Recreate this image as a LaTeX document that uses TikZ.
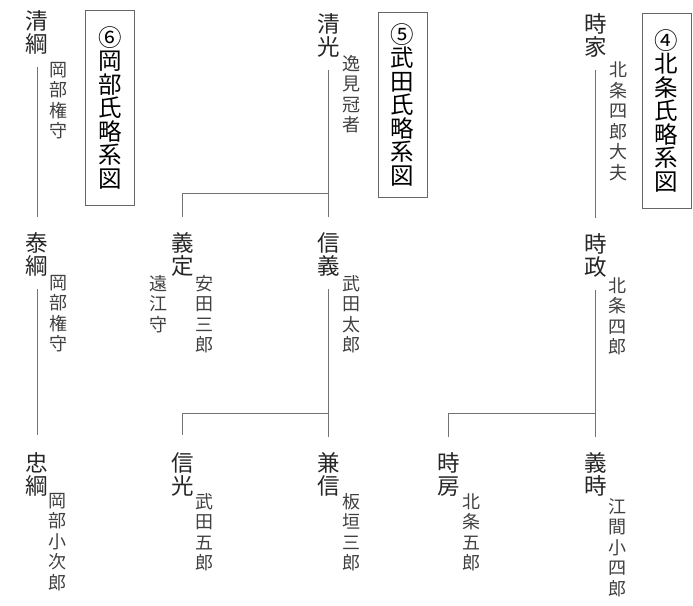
\documentclass[tikz,border=0pt]{standalone}
\usepackage{fontspec}
\newfontfamily\jp{Noto Sans CJK JP}
\tikzset{
  nm/.style={anchor=north, align=center, inner sep=0pt, font=\jp\fontsize{22.5pt}{23pt}\selectfont, text=black!85},
  sb/.style={anchor=north, align=center, inner sep=0pt, font=\jp\fontsize{18pt}{20.5pt}\selectfont, text=black!75},
  titlebox/.style={draw=black!60, line width=0.8pt, align=center, inner sep=0pt, minimum width=49pt, font=\jp\fontsize{23.5pt}{23.5pt}\selectfont, text=black},
  link/.style={draw=black!55, line width=0.7pt},
}
\begin{document}
\begin{tikzpicture}[x=1pt, y=-1pt]
\useasboundingbox (0,0) rectangle (693,605);

% ---- Okabe ----
\node[titlebox, minimum height=195pt] (box6) at (110,107.5) {⑥\\岡\\部\\氏\\略\\系\\図};
\node[nm] (kiyotsuna) at (37,10) {清\\綱};
\node[sb] (kiyotsunaS) at (58.5,62) {岡\\部\\権\\守};
\node[nm] (yasutsuna) at (37,232) {泰\\綱};
\node[sb] (yasutsunaS) at (58.5,275) {岡\\部\\権\\守};
\node[nm] (tadatsuna) at (37,452) {忠\\綱};
\node[sb] (tadatsunaS) at (57,493) {岡\\部\\小\\次\\郎};
\draw[link, shorten <=13pt, shorten >=15pt] (kiyotsuna.south) -- (yasutsuna.north);
\draw[link, shorten <=13pt, shorten >=17pt] (yasutsuna.south) -- (tadatsuna.north);

% ---- Takeda ----
\node[titlebox, minimum height=185pt] (box5) at (402.5,104.5) {⑤\\武\\田\\氏\\略\\系\\図};
\node[nm] (kiyomitsu) at (328.5,13) {清\\光};
\node[sb] (kiyomitsuS) at (351.5,55) {逸\\見\\冠\\者};
\node[nm] (yoshisada) at (182.5,232) {義\\定};
\node[sb] (yoshisadaS) at (204,275) {安\\田\\三\\郎};
\node[sb] (yoshisadaT) at (158.5,275) {遠\\江\\守};
\node[nm] (nobuyoshi) at (328.5,232) {信\\義};
\node[sb] (nobuyoshiS) at (351.5,275) {武\\田\\太\\郎};
\node[nm] (nobumitsu) at (182.5,452) {信\\光};
\node[sb] (nobumitsuS) at (204,493) {武\\田\\五\\郎};
\node[nm] (kanenobu) at (328.5,452) {兼\\信};
\node[sb] (kanenobuS) at (351.5,493) {板\\垣\\三\\郎};
\coordinate (tb1) at (328.5,193);
\coordinate (tb2) at (328.5,413);
\draw[link, shorten <=13pt, shorten >=15pt] (kiyomitsu.south) -- (nobuyoshi.north);
\draw[link, shorten >=15pt] (tb1) -| (yoshisada.north);
\draw[link, shorten <=13pt, shorten >=15pt] (nobuyoshi.south) -- (kanenobu.north);
\draw[link, shorten >=17pt] (tb2) -| (nobumitsu.north);

% ---- Hojo ----
\node[titlebox, minimum height=195pt] (box4) at (666.5,110.5) {④\\北\\条\\氏\\略\\系\\図};
\node[nm] (tokiie) at (595.5,13) {時\\家};
\node[sb] (tokiieS) at (618.5,62) {北\\条\\四\\郎\\大\\夫};
\node[nm] (tokimasa) at (595.5,233) {時\\政};
\node[sb] (tokimasaS) at (617.5,277) {北\\条\\四\\郎};
\node[nm] (tokifusa) at (448.5,452) {時\\房};
\node[sb] (tokifusaS) at (471,493) {北\\条\\五\\郎};
\node[nm] (yoshitoki) at (595.5,452) {義\\時};
\node[sb] (yoshitokiS) at (617.5,498) {江\\間\\小\\四\\郎};
\coordinate (hb) at (595.5,413);
\draw[link, shorten <=13pt, shorten >=15pt] (tokiie.south) -- (tokimasa.north);
\draw[link, shorten <=13pt, shorten >=15pt] (tokimasa.south) -- (yoshitoki.north);
\draw[link, shorten >=15pt] (hb) -| (tokifusa.north);
\end{tikzpicture}
\end{document}
